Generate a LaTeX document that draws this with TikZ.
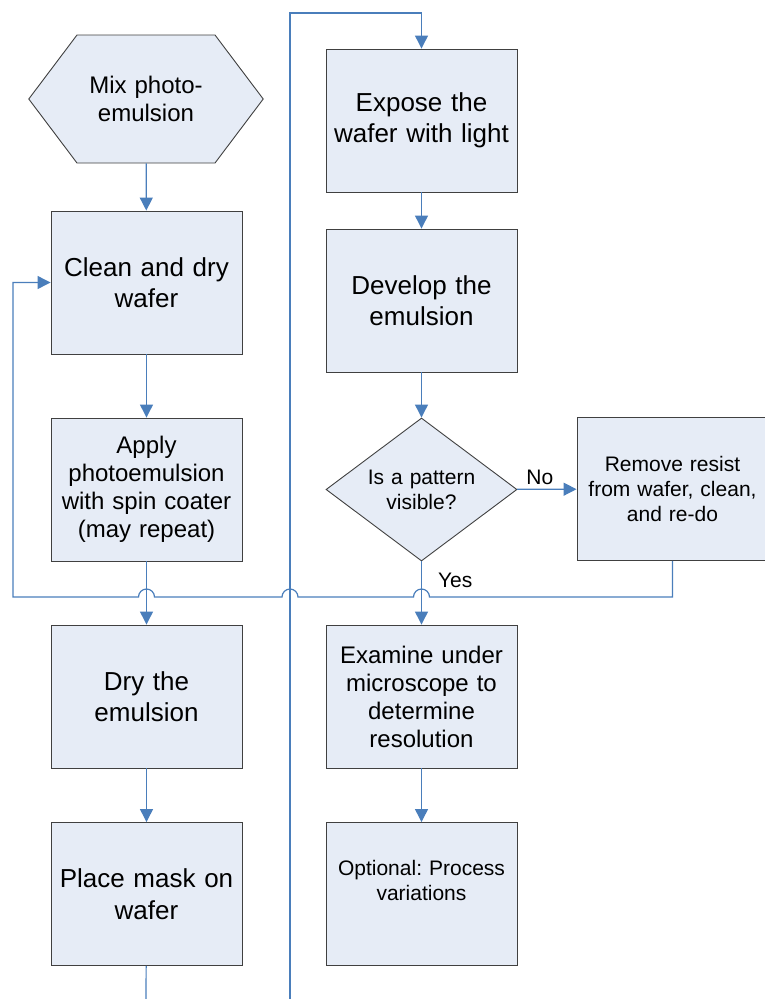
\documentclass[tikz,border=0pt]{standalone}
\usepackage{fontspec}
\setmainfont{Liberation Sans}
\frenchspacing
\usetikzlibrary{arrows.meta,calc,shapes.geometric,shapes.symbols}
\definecolor{boxfill}{RGB}{230,236,246}
\definecolor{boxline}{RGB}{64,64,64}
\definecolor{flow}{RGB}{74,126,187}

\begin{document}
\begin{tikzpicture}[x=1pt,y=-1pt,>={Triangle[length=13pt,width=13pt]},box/.style={draw=boxline,fill=boxfill,line width=0.9pt,minimum width=191pt,minimum height=143pt,text width=185pt,inner sep=0pt,align=center,font=\fontsize{26}{31.5}\selectfont},mbox/.style={box,font=\fontsize{24}{28}\selectfont},sbox/.style={box,font=\fontsize{21}{25}\selectfont},hexa/.style={box,signal,signal to=west and east,signal pointer angle=106,minimum width=138pt,minimum height=128pt,text width=138pt,font=\fontsize{24}{28}\selectfont},test/.style={box,diamond,aspect=1.34,minimum width=191pt,minimum height=143pt,text width=120pt,font=\fontsize{21}{25}\selectfont},link/.style={draw=flow,line width=1.2pt},lbl/.style={font=\fontsize{21}{25}\selectfont,inner sep=2pt}]
\useasboundingbox (0,0) rectangle (764,999);
\node[hexa] (a) at (146,99) {Mix photo-\\emulsion};
\node[box] (b) at (146.5,282.5) {Clean and dry\\wafer};
\node[mbox] (c) at (146.5,489.5) {Apply\\photoemulsion\\with spin coater\\(may repeat)};
\node[box] (d) at (146.5,696.5) {Dry the\\emulsion};
\node[box] (e) at (146.5,894) {Place mask on\\wafer};
\node[box] (f) at (421.5,120.5) {Expose the\\wafer with light};
\node[box] (g) at (421.5,300.5) {Develop the\\emulsion};
\node[test] (h) at (421.5,489.5) {Is a pattern\\visible?};
\node[sbox] (i) at (672.5,489) {Remove resist\\from wafer, clean,\\and re-do};
\node[mbox] (j) at (421.5,696.5) {Examine under\\microscope to\\determine\\resolution};
\node[sbox,text depth=52pt] (k) at (421.5,894) {Optional: Process\\variations};
\coordinate (p1) at (146,999);
\coordinate (p2) at (290,999);
\coordinate (q) at (290,13);
\coordinate (r) at (13,597);
\draw[link,->] (a) -- (b);
\draw[link,->] (b) -- (c);
\draw[link,->] (c) -- (d);
\draw[link,->] (d) -- (e);
\draw[link] (e) -- (p1);
\draw[link,->] (p2) -- (q) -| (f);
\draw[link,->] (f) -- (g);
\draw[link,->] (g) -- (h);
\draw[link,->] (h) -- node[lbl,above,xshift=-7pt,yshift=2pt]{No} (i);
\draw[link,->] (h) -- node[lbl,right,pos=0.3,xshift=14pt]{Yes} (j);
\draw[link,->] (j) -- (k);
% loop back with hops over the crossings
\draw[link,->] (i.south) |- ($(j.north |- r)+(8,0)$) arc[start angle=0,end angle=180,radius=8pt] -- ($(q |- r)+(8,0)$) arc[start angle=0,end angle=180,radius=8pt] -- ($(d.north |- r)+(8,0)$) arc[start angle=0,end angle=180,radius=8pt] -- (r) |- (b);
\end{tikzpicture}
\end{document}
